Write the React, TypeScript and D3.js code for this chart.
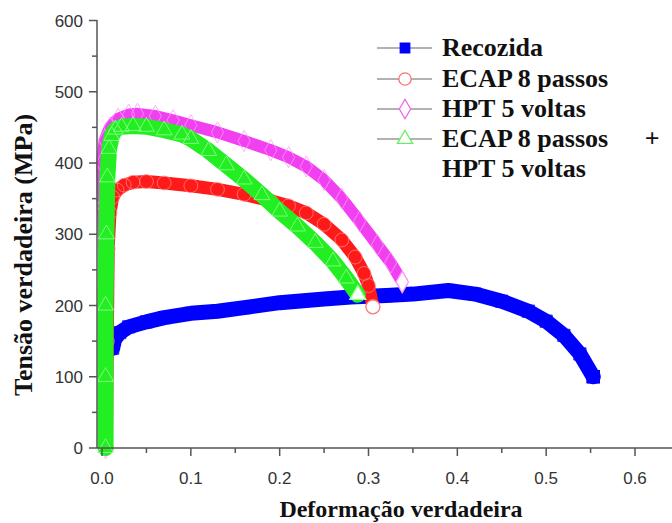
import React from "react";
import * as d3 from "d3";

type Pt = [number, number];

const seriesNames = ["Recozida", "ECAP 8 passos", "HPT 5 voltas", "ECAP 8 passos +"];
const legendExtra = "HPT 5 voltas";

const recozida: Pt[] = [
  [0.012, 140], [0.014, 152], [0.02, 162], [0.03, 170], [0.05, 177], [0.07, 183],
  [0.1, 189], [0.13, 192], [0.16, 197], [0.2, 204], [0.25, 209], [0.28, 212],
  [0.32, 214], [0.35, 216], [0.39, 221], [0.42, 216], [0.45, 206], [0.48, 192],
  [0.5, 178], [0.52, 158], [0.538, 132], [0.553, 100],
];

const ecap: Pt[] = [
  [0.005, 0], [0.006, 150], [0.007, 280], [0.009, 330], [0.012, 352], [0.017, 362],
  [0.025, 369], [0.035, 373], [0.05, 374], [0.07, 372], [0.1, 368], [0.13, 363],
  [0.16, 356], [0.19, 347], [0.21, 340], [0.23, 330], [0.25, 314], [0.27, 292],
  [0.285, 268], [0.295, 245], [0.3, 228], [0.305, 198],
];

const hpt: Pt[] = [
  [0.004, 0], [0.004, 200], [0.001, 340], [0.0, 400], [0.003, 432], [0.009, 450],
  [0.018, 462], [0.03, 468], [0.04, 469], [0.06, 466], [0.08, 460], [0.1, 453],
  [0.13, 443], [0.16, 431], [0.19, 418], [0.21, 408], [0.23, 395], [0.25, 376],
  [0.27, 350], [0.29, 318], [0.31, 285], [0.325, 260], [0.338, 233],
];

const ecapHpt: Pt[] = [
  [0.004, 0], [0.004, 100], [0.004, 200], [0.005, 300], [0.006, 380], [0.008, 420],
  [0.011, 438], [0.015, 447], [0.022, 451], [0.035, 452], [0.05, 451], [0.07, 446],
  [0.09, 440], [0.1, 434], [0.12, 417], [0.14, 397], [0.16, 377], [0.18, 355],
  [0.2, 332], [0.22, 311], [0.24, 288], [0.26, 262], [0.275, 238], [0.288, 215],
];

const xTicks = [0, 0.1, 0.2, 0.3, 0.4, 0.5, 0.6];
const xMinor = [0.05, 0.15, 0.25, 0.35, 0.45, 0.55];
const yTicks = [0, 100, 200, 300, 400, 500, 600];
const yMinor = [50, 150, 250, 350, 450, 550];

const xTitle = "Deformação verdadeira";
const yTitle = "Tensão verdadeira (MPa)";

const x = d3.scaleLinear().domain([0, 0.6]).range([102, 635]);
const y = d3.scaleLinear().domain([0, 600]).range([448, 20.5]);

const lineLinear = d3
  .line<Pt>()
  .x((d) => x(d[0]))
  .y((d) => y(d[1]));

const sq = d3.symbol().type(d3.symbolSquare).size(150)() as string;
const circ = d3.symbol().type(d3.symbolCircle).size(150)() as string;
const dia = d3.symbol().type(d3.symbolDiamond).size(130)() as string;
const tri = d3.symbol().type(d3.symbolTriangle).size(110)() as string;

const sqL = d3.symbol().type(d3.symbolSquare).size(90)() as string;
const circL = d3.symbol().type(d3.symbolCircle).size(120)() as string;
const diaL = d3.symbol().type(d3.symbolDiamond).size(110)() as string;
const triL = d3.symbol().type(d3.symbolTriangle).size(100)() as string;

const serif = "'Liberation Serif', 'Times New Roman', serif";
const sans = "'Liberation Sans', Arial, sans-serif";

function Band({ data, color, width, marker, mStroke, filled }: {
  data: Pt[]; color: string; width: number; marker: string; mStroke: string; filled?: boolean;
}) {
  const last = data[data.length - 1];
  return (
    <g>
      <path d={lineLinear(data) as string} fill="none" stroke={color} strokeWidth={width}
        strokeLinejoin="round" strokeLinecap="round" />
      {data.map((d, i) => (
        <path key={i} d={marker} transform={`translate(${x(d[0])},${y(d[1])})`}
          fill={filled ? color : "none"} stroke={mStroke} strokeWidth={1} opacity={0.8} />
      ))}
      <path d={marker} transform={`translate(${x(last[0])},${y(last[1])})`}
        fill={filled ? color : "#fff"} stroke={mStroke} strokeWidth={1.3} />
    </g>
  );
}

export default function App() {
  const axisColor = "#555";
  const legendRows = [48, 79, 109, 139];
  const legendMarkers = [
    { m: sqL, fill: "#0000ff", stroke: "#0000ff" },
    { m: circL, fill: "#fff", stroke: "#ff7070" },
    { m: diaL, fill: "#fff", stroke: "#ee66ee" },
    { m: triL, fill: "#fff", stroke: "#66ee66" },
  ];
  return (
    <svg width={672} height={523} style={{ position: "absolute", left: 0, top: 0, background: "#fff" }}>
      <rect width={672} height={523} fill="#fff" />
      {/* data */}
      <Band data={recozida} color="#0000ff" width={15} marker={sq} mStroke="#0000ff" filled />
      <Band data={ecap} color="#ff1a1a" width={13} marker={circ} mStroke="#ff8080" />
      <Band data={hpt} color="#f040f0" width={12} marker={dia} mStroke="#ff99ff" />
      <Band data={ecapHpt} color="#22ee22" width={16} marker={tri} mStroke="#99ff99" />

      {/* axes */}
      <line x1={97} x2={672} y1={448} y2={448} stroke={axisColor} strokeWidth={1.5} />
      <line x1={97} x2={97} y1={20} y2={448} stroke={axisColor} strokeWidth={1.5} />
      {xTicks.map((t) => (
        <g key={"xt" + t}>
          <line x1={x(t)} x2={x(t)} y1={448} y2={456} stroke={axisColor} strokeWidth={1.5} />
          <text x={x(t)} y={484} textAnchor="middle" fontFamily={sans} fontSize={17} fill="#333">
            {t.toFixed(1)}
          </text>
        </g>
      ))}
      {xMinor.map((t) => (
        <line key={"xm" + t} x1={x(t)} x2={x(t)} y1={448} y2={453} stroke={axisColor} strokeWidth={1.5} />
      ))}
      {yTicks.map((t) => (
        <g key={"yt" + t}>
          <line x1={89} x2={97} y1={y(t)} y2={y(t)} stroke={axisColor} strokeWidth={1.5} />
          <text x={83} y={y(t) + 6} textAnchor="end" fontFamily={sans} fontSize={17} fill="#333">
            {t}
          </text>
        </g>
      ))}
      {yMinor.map((t) => (
        <line key={"ym" + t} x1={92} x2={97} y1={y(t)} y2={y(t)} stroke={axisColor} strokeWidth={1.5} />
      ))}

      {/* titles */}
      <text x={401} y={517} textAnchor="middle" fontFamily={serif} fontWeight="bold" fontSize={24} fill="#111">
        {xTitle}
      </text>
      <text transform="translate(32,255) rotate(-90)" textAnchor="middle" fontFamily={serif}
        fontWeight="bold" fontSize={26} fill="#111">
        {yTitle}
      </text>

      {/* legend */}
      {seriesNames.map((name, i) => {
        const parts = name.endsWith(" +") ? [name.slice(0, -2), "+"] : [name];
        return (
          <g key={name}>
            <line x1={377} x2={432} y1={legendRows[i]} y2={legendRows[i]} stroke="#666" strokeWidth={1.2} />
            <path d={legendMarkers[i].m} transform={`translate(405,${legendRows[i]})`}
              fill={legendMarkers[i].fill} stroke={legendMarkers[i].stroke} strokeWidth={1.3} />
            <text x={442} y={legendRows[i] + 8} fontFamily={serif} fontWeight="bold" fontSize={26} fill="#111">
              {parts[0]}
              {parts.length > 1 ? <tspan dx={30}>{" " + parts[1]}</tspan> : null}
            </text>
          </g>
        );
      })}
      <text x={442} y={177} fontFamily={serif} fontWeight="bold" fontSize={26} fill="#111">
        {legendExtra}
      </text>
    </svg>
  );
}
